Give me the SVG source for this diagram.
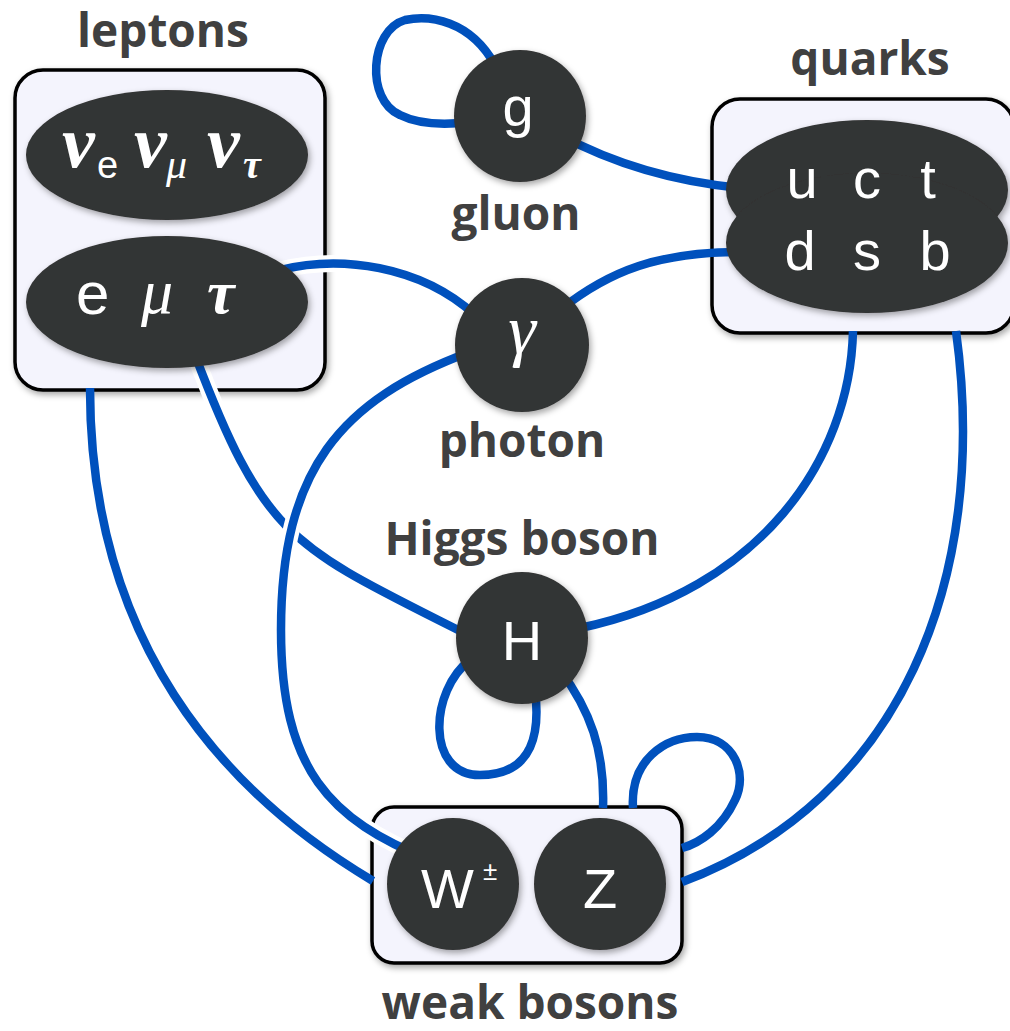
<svg xmlns="http://www.w3.org/2000/svg" xmlns:xlink="http://www.w3.org/1999/xlink" width="1010" height="1031" viewBox="0 0 1010 1031">
<style>
.box{fill:#f4f4fd;stroke:#000;stroke-width:3.5}
.dark{fill:#333434}
.wire{fill:none;stroke:#0051bd;stroke-width:8.5;stroke-linecap:butt}
.halo{fill:none;stroke:#fff;stroke-width:17}
.lbl{font-family:"Open Sans","Liberation Sans",sans-serif;font-weight:700;font-size:46px;fill:#404040;text-anchor:middle}
.sym{font-family:"Liberation Sans",Arial,sans-serif;fill:#fff;font-size:56px}
.mid{text-anchor:middle}
.ser{font-family:"Liberation Serif","Times New Roman",serif}
.it{font-style:italic}
.bd{font-weight:700}
</style>
<defs>
<filter id="sh" x="-20%" y="-20%" width="140%" height="140%">
<feDropShadow dx="2" dy="3" stdDeviation="3" flood-color="#000" flood-opacity="0.35"/>
</filter>
<path id="c1" d="M 280 270 C 340 255, 420 265, 475 315"/>
<path id="c3" d="M 195 355 C 266 542, 292 546, 470 636"/>
<path id="c4" d="M 470 352 C 340 400, 281 470, 281 630 C 281 770, 330 820, 430 860"/>
</defs>

<g id="leptons-box"><rect class="box" x="15" y="70" width="310" height="320" rx="28" filter="url(#sh)"/></g>
<g id="quarks-box"><rect class="box" x="712" y="99" width="302" height="234" rx="28" filter="url(#sh)"/></g>
<g id="weak-box"><rect class="box" x="372" y="807" width="310" height="156" rx="22" filter="url(#sh)"/></g>

<g id="connectors">
<path class="wire" d="M 495 65 C 470 20, 430 15, 405 20 C 370 30, 365 100, 400 115 C 420 125, 445 125, 470 122"/>
<path class="wire" d="M 560 135 Q 640 178, 740 188"/>
<path class="wire" d="M 740 252 C 660 252, 610 270, 560 310"/>
<use xlink:href="#c1" class="halo"/><use xlink:href="#c1" class="wire"/>
<use xlink:href="#c3" class="halo"/><use xlink:href="#c3" class="wire"/>
<use xlink:href="#c4" class="halo"/><use xlink:href="#c4" class="wire"/>
<path class="wire" d="M 90 388 C 90 640, 220 790, 373 881"/>
<path class="wire" d="M 853 331 C 850 460, 760 590, 580 628"/>
<path class="wire" d="M 956 331 C 990 580, 900 800, 682 882"/>
<path class="wire" d="M 470 660 C 430 690, 425 775, 480 775 C 535 775, 540 730, 535 690"/>
<path class="wire" d="M 560 670 C 590 710, 605 750, 603 808"/>
<path class="wire" d="M 633 808 C 630 760, 665 737, 697 737 C 735 737, 748 775, 735 800 C 722 828, 700 843, 682 848"/>
</g>

<g id="neutrinos">
<ellipse class="dark" cx="167" cy="155" rx="141" ry="65" filter="url(#sh)"/>
<text class="ser it bd" fill="#fff" font-size="74"><tspan x="62" y="167">ν</tspan><tspan x="134" y="167">ν</tspan><tspan x="207" y="167">ν</tspan></text>
<text fill="#fff" font-family="Liberation Sans, Arial, sans-serif" font-size="38" x="97" y="178">e</text>
<text class="ser it" fill="#fff" font-size="42" x="166" y="178">μ</text>
<text class="ser it bd" fill="#fff" font-size="40" x="243" y="178">τ</text>
</g>
<g id="charged-leptons">
<ellipse class="dark" cx="167" cy="302" rx="141" ry="66" filter="url(#sh)"/>
<text class="sym" style="font-size:60px" x="76" y="314">e</text>
<text class="ser it" fill="#fff" font-size="64" x="141" y="313">μ</text>
<text class="ser it bd" fill="#fff" font-size="62" x="207" y="313">τ</text>
</g>
<g id="quarks">
<g filter="url(#sh)">
<ellipse class="dark" cx="867" cy="190" rx="141" ry="70"/>
<ellipse class="dark" cx="867" cy="243" rx="141" ry="70"/>
</g>
<text class="sym mid" x="802 835 867 898 928" y="198">u c t</text>
<text class="sym mid" x="800 834 867 901 935" y="270">d s b</text>
</g>
<g id="gluon">
<circle class="dark" cx="520" cy="116" r="66" filter="url(#sh)"/>
<text class="sym mid" x="518" y="126">g</text>
</g>
<g id="photon">
<circle class="dark" cx="522" cy="345" r="67" filter="url(#sh)"/>
<text class="ser it mid" fill="#fff" font-size="70" x="522" y="353">γ</text>
</g>
<g id="higgs">
<circle class="dark" cx="522" cy="638" r="66" filter="url(#sh)"/>
<text class="sym mid" x="522" y="660">H</text>
</g>
<g id="w-boson">
<circle class="dark" cx="453" cy="884" r="66" filter="url(#sh)"/>
<text class="sym" x="421" y="908">W</text>
<text class="sym" style="font-size:26px" x="483" y="880">±</text>
</g>
<g id="z-boson">
<circle class="dark" cx="600" cy="884" r="66" filter="url(#sh)"/>
<text class="sym mid" x="600" y="908">Z</text>
</g>

<g id="labels">
<text class="lbl" x="163" y="47">leptons</text>
<text class="lbl" x="870" y="75">quarks</text>
<text class="lbl" x="516" y="230">gluon</text>
<text class="lbl" x="522" y="457">photon</text>
<text class="lbl" x="522" y="555">Higgs boson</text>
<text class="lbl" x="530" y="1019">weak bosons</text>
</g>
</svg>
